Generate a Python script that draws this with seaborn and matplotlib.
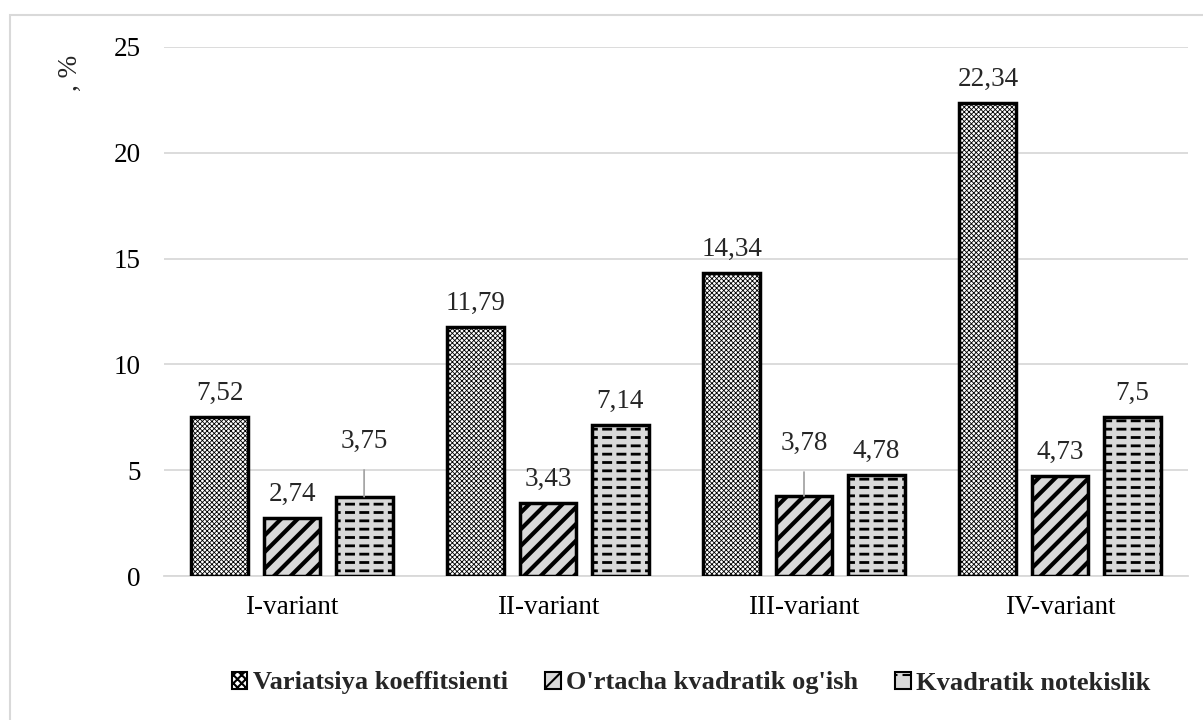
import numpy as np
import pandas as pd
import matplotlib
matplotlib.use("Agg")
import matplotlib.pyplot as plt
import matplotlib.hatch as mhatch
from matplotlib.path import Path
from matplotlib.patches import Patch, Rectangle
import seaborn as sns

# ---------------- data ----------------
categories = ["I-variant", "II-variant", "III-variant", "IV-variant"]
series = ["Variatsiya koeffitsienti", "O'rtacha kvadratik og'ish", "Kvadratik notekislik"]
variatsiya = [7.52, 11.79, 14.34, 22.34]
ortacha = [2.74, 3.43, 3.78, 4.73]
kvadratik = [3.75, 7.14, 4.78, 7.5]
y_ticks = [0, 5, 10, 15, 20, 25]
y_label = ", %"


# ---------------- custom dashed hatch (uses '*') ----------------
class DashHatch(mhatch.HatchPatternBase):
    n_dash = 7

    def __init__(self, hatch, density):
        self.num_lines = int(hatch.count('*') * density)
        self.num_vertices = self.num_lines * self.n_dash * 2

    def set_vertices_and_codes(self, vertices, codes):
        steps, stepsize = np.linspace(0.0, 1.0, self.num_lines, False, retstep=True)
        steps += stepsize / 2.0
        period = 1.0 / self.n_dash
        starts = np.arange(self.n_dash) * period + period * 0.25
        ends = starts + period * 0.5
        idx = 0
        for yy in steps:
            for s, e in zip(starts, ends):
                vertices[idx] = (s, yy)
                codes[idx] = Path.MOVETO
                vertices[idx + 1] = (e, yy)
                codes[idx + 1] = Path.LINETO
                idx += 2


mhatch._hatch_types[:] = [t for t in mhatch._hatch_types
                          if getattr(t, "__name__", "") != "Stars"] + [DashHatch]

# ---------------- style ----------------
sns.set_theme(style="white")
plt.rcParams['font.family'] = ['Liberation Serif', 'DejaVu Serif']
plt.rcParams['hatch.linewidth'] = 1.5

df = pd.DataFrame({
    "category": categories * 3,
    "series": [series[0]] * 4 + [series[1]] * 4 + [series[2]] * 4,
    "value": variatsiya + ortacha + kvadratik,
})

W, H = 1203, 720
fig = plt.figure(figsize=(W / 100, H / 100), dpi=100)
ax = fig.add_axes([164 / W, 1 - 576 / H, (1188 - 164) / W, (576 - 47) / H])

sns.barplot(data=df, x="category", y="value", hue="series", order=categories,
            hue_order=series, width=0.845, gap=0.21, errorbar=None,
            legend=False, ax=ax)

faces = ['white', '#d9d9d9', '#d9d9d9']
hatches = ['xxxxxxx', '//', '**']
hatch_lws = [0.6, 3.0, 2.0]
edge_lw = 2.5

for cont, fc, h, hlw in zip(ax.containers, faces, hatches, hatch_lws):
    for bar in cont:
        bar.set_facecolor(fc)
        bar.set_edgecolor('black')
        bar.set_linewidth(edge_lw)
        bar.set_hatch(h)
        if hasattr(bar, "set_hatch_linewidth"):
            bar.set_hatch_linewidth(hlw)
        bar.set_zorder(3)

FS = 19.5
ax.set_ylim(0, 25)
ax.set_yticks(y_ticks)
ax.set_yticklabels([str(t) for t in y_ticks])
ax.set_xlim(-0.5, 3.5)
ax.set_xlabel("")
ax.set_ylabel("")
ax.yaxis.grid(True, color='#d9d9d9', lw=1.3, zorder=0)
ax.xaxis.grid(False)
ax.set_axisbelow(True)
for s in ['top', 'right', 'left']:
    ax.spines[s].set_visible(False)
ax.spines['bottom'].set_color('#d9d9d9')
ax.spines['bottom'].set_linewidth(1.3)
ax.tick_params(axis='both', length=0, labelsize=FS, colors='black')
ax.tick_params(axis='y', pad=17)
ax.tick_params(axis='x', pad=14)

# data labels
lifted = {(2, 0): 6.35, (1, 2): 6.25}  # (series idx, category idx): label y value
for si, cont in enumerate(ax.containers):
    for ci, bar in enumerate(cont):
        v = bar.get_height()
        x = bar.get_x() + bar.get_width() / 2
        txt = f"{v:g}".replace('.', ',')
        if (si, ci) in lifted:
            ly = lifted[(si, ci)]
            ax.annotate(txt, xy=(x, v), xytext=(x, ly), textcoords='data',
                        ha='center', va='center', fontsize=FS,
                        arrowprops=dict(arrowstyle='-', color='#a6a6a6', lw=1.3,
                                        shrinkA=9, shrinkB=0))
        else:
            ax.annotate(txt, xy=(x, v), xytext=(0, 17), textcoords='offset points',
                        ha='center', va='center', fontsize=FS)

# y-axis label
fig.text(70 / W, 1 - 73 / H, y_label, rotation=90, ha='center', va='center', fontsize=FS)

# legend
handles = []
for fc, h in zip(faces, ['xxxx', '//', '*']):
    p = Patch(facecolor=fc, edgecolor='black', hatch=h, linewidth=1.5)
    handles.append(p)
fig.legend(handles, series, loc='center', bbox_to_anchor=(691 / W, 1 - 683 / H),
           ncol=3, frameon=False, prop=dict(weight='bold', size=19),
           handlelength=0.6, handleheight=0.6, handletextpad=0.2, columnspacing=1.4)

# outer border
fig.patches.append(Rectangle((10 / W, -0.1), 1.2, 1 - 15 / H + 0.1, transform=fig.transFigure,
                             fill=False, edgecolor='#d9d9d9', linewidth=1.5))

fig.savefig("out.png", dpi=100)
